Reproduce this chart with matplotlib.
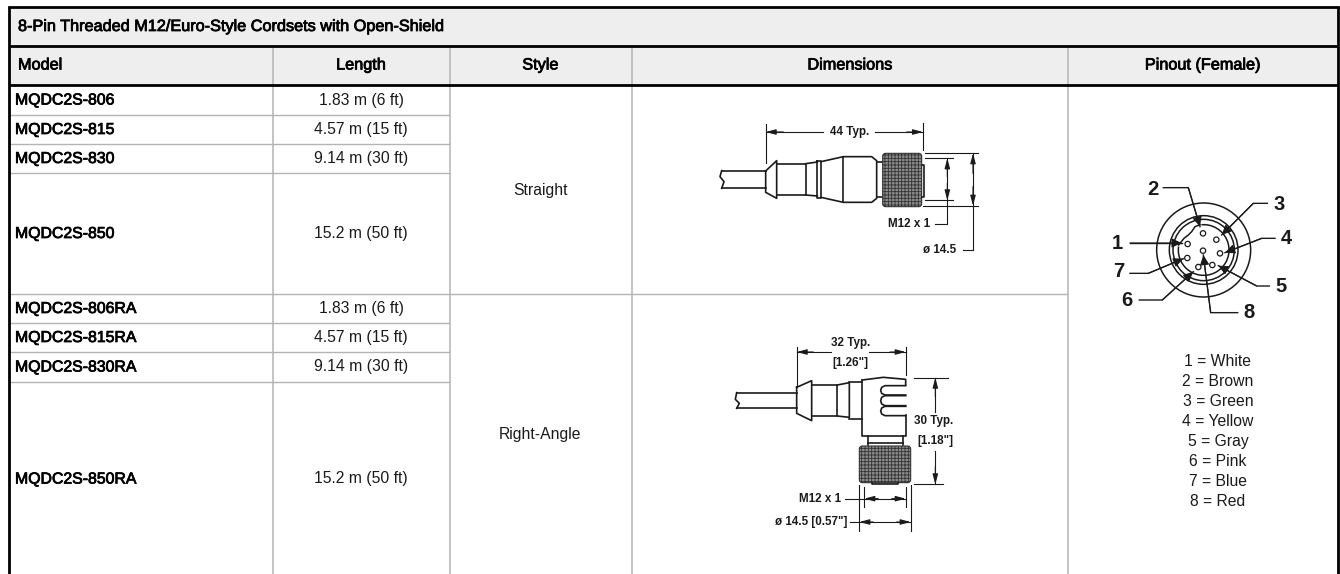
import matplotlib
matplotlib.use('Agg')
import matplotlib.pyplot as plt
import matplotlib.patheffects as pe
from matplotlib.patches import Rectangle, Circle, Arc, FancyBboxPatch

# table contents
title = '8-Pin Threaded M12/Euro-Style Cordsets with Open-Shield'
headers = ['Model', 'Length', 'Style', 'Dimensions', 'Pinout (Female)']
models = ['MQDC2S-806', 'MQDC2S-815', 'MQDC2S-830', 'MQDC2S-850',
          'MQDC2S-806RA', 'MQDC2S-815RA', 'MQDC2S-830RA', 'MQDC2S-850RA']
lengths = ['1.83 m (6 ft)', '4.57 m (15 ft)', '9.14 m (30 ft)', '15.2 m (50 ft)',
           '1.83 m (6 ft)', '4.57 m (15 ft)', '9.14 m (30 ft)', '15.2 m (50 ft)']
styles = ['Straight', 'Right-Angle']
pin_colors = ['White', 'Brown', 'Green', 'Yellow', 'Gray', 'Pink', 'Blue', 'Red']

W, H = 1340, 574
SANS = ['Liberation Sans', 'DejaVu Sans']
GRID = '#b4b4b4'
INK = '#1a1a1a'

plt.rcParams['hatch.linewidth'] = 0.6

fig = plt.figure(figsize=(W / 100, H / 100), dpi=100)
ax = fig.add_axes([0, 0, 1, 1])
ax.set_xlim(0, W)
ax.set_ylim(H, 0)
ax.axis('off')


def bold(x, y, s, ha='left', size=11.4):
    ax.text(x, y, s, ha=ha, va='center', fontsize=size, family=SANS, color='black',
            path_effects=[pe.withStroke(linewidth=0.55, foreground='black')])


def plain(x, y, s):
    ax.text(x, y, s, ha='center', va='center', fontsize=11.3, family=SANS, color=INK)


def hline(y, x0, x1, color=GRID, lw=1.1):
    ax.plot([x0, x1], [y, y], color=color, lw=lw, solid_capstyle='butt')


def vline(x, y0, y1, color=GRID, lw=1.1):
    ax.plot([x, x], [y0, y1], color=color, lw=lw, solid_capstyle='butt')


# table frame
ax.add_patch(Rectangle((9, 7), 1329, 77.5, fc='#eeeeee', ec='none'))
col_x = [272.5, 449.5, 631.5, 1068]
for x in col_x:
    vline(x, 46, H)
row_y = [115, 144, 173, 294, 323, 352, 382]
for y in row_y[:3] + row_y[4:]:
    hline(y, 9, 449.5, lw=1.0)
hline(294, 9, 1068, lw=1.0)
hline(7, 8, 1339, 'black', 2)
hline(45.5, 9, 1338, 'black', 2)
hline(84.5, 9, 1338, 'black', 2)
vline(9, 6, H, 'black', 2)
vline(1338, 6, H, 'black', 2)

bold(18, 26.5, title, size=11.7)
bold(18, 65, headers[0], size=11.7)
for x, s in zip([361, 540.5, 850, 1203], headers[1:]):
    bold(x, 65, s, ha='center', size=11.7)

model_y = [100, 129.5, 158.5, 233.5, 308.5, 337.5, 367, 479]
for y, m, l in zip(model_y, models, lengths):
    bold(15, y, m)
    plain(361, y, l)
plain(540.5, 190, styles[0])
plain(540.5, 434, styles[1])

for i, c in enumerate(pin_colors):
    plain(1218, 361.5 + i * 20, '%d = %s' % (i + 1, c))


# the drawings are traced in coordinates of 3x crops
def sketch(ox, oy):
    def to_px(p):
        return ox + p[0] / 3, oy + p[1] / 3

    def line(pts, lw=1.2, color=INK):
        xy = [to_px(p) for p in pts]
        ax.plot([p[0] for p in xy], [p[1] for p in xy], color=color, lw=lw,
                solid_joinstyle='round')

    def arrow(a, b, width=0.16):
        ax.annotate('', xy=to_px(b), xytext=to_px(a),
                    arrowprops=dict(arrowstyle='-|>,head_length=0.6,head_width=%g' % width,
                                    color=INK, lw=0.8, shrinkA=0, shrinkB=0))

    def label(x, y, s, size=8.4):
        px, py = to_px((x, y))
        ax.text(px, py, s, ha='center', va='center', fontsize=size, family=SANS,
                fontweight='bold', color=INK)

    def knurl(x0, y0, x1, y1):
        a, b = to_px((x0, y0))
        c, d = to_px((x1, y1))
        ax.add_patch(FancyBboxPatch((a + 2, b + 2), c - a - 4, d - b - 4,
                                    boxstyle='round,pad=2,rounding_size=3',
                                    fc='#8c8c8c', ec='#333333', lw=0.8,
                                    hatch='+++++', zorder=2))
    return to_px, line, arrow, label, knurl


# straight connector
to_px, line, arrow, label, knurl = sketch(620, 110)
line([(305, 182), (437, 182)])
line([(305, 235), (437, 235)])
line([(305, 182), (300, 200), (312, 215), (305, 235)])
line([(437, 183), (470, 152), (470, 265), (437, 247), (437, 183)])
line([(470, 161), (557, 161), (557, 255), (470, 255)])
line([(557, 161), (592, 156)])
line([(557, 255), (592, 258)])
line([(592, 154), (603, 154), (603, 263), (592, 263), (592, 154)])
line([(603, 155), (670, 140), (755, 140), (770, 152), (770, 265), (755, 277), (670, 277), (603, 262)])
line([(670, 140), (670, 277)])
line([(770, 155), (788, 155)])
line([(770, 260), (788, 260)])
knurl(788, 130, 905, 290)
line([(905, 165), (912, 165), (912, 260), (905, 260)])
line([(437, 42), (437, 158)], 0.8)
line([(909, 40), (909, 120)], 0.8)
line([(437, 66), (610, 66)], 0.8)
line([(765, 66), (909, 66)], 0.8)
arrow((490, 66), (437, 66))
arrow((860, 66), (909, 66))
label(688, 66, '44 Typ.')
line([(915, 130), (1075, 130)], 0.8)
line([(915, 145), (1000, 145)], 0.8)
line([(915, 271), (1000, 271)], 0.8)
line([(910, 287), (1075, 287)], 0.8)
line([(982, 145), (982, 341), (945, 341)], 0.8)
arrow((982, 200), (982, 145))
arrow((982, 220), (982, 271))
label(868, 342, 'M12 x 1')
line([(1059, 130), (1059, 420), (1028, 420)], 0.8)
arrow((1059, 190), (1059, 130))
arrow((1059, 230), (1059, 287))
label(958, 420, 'ø 14.5')

# right-angle connector
to_px, line, arrow, label, knurl = sketch(620, 340)
line([(350, 158), (530, 158)])
line([(350, 205), (530, 205)])
line([(350, 158), (346, 178), (358, 190), (350, 205)])
line([(530, 142), (575, 122), (575, 242), (530, 220), (530, 142)])
line([(575, 135), (652, 135), (652, 228), (575, 228)])
line([(652, 135), (688, 128), (688, 232), (652, 228)])
line([(688, 125), (727, 125)])
line([(688, 237), (727, 237)])
line([(727, 120), (790, 112), (857, 118), (857, 135)])
line([(727, 120), (727, 287), (857, 287), (857, 225)])
for y0, y1 in [(137, 165), (167, 197), (199, 227)]:
    ym = (y0 + y1) / 2
    line([(857, y0), (795, y0), (785, y0 + 5), (782, ym), (785, y1 - 5), (795, y1), (857, y1)])
line([(745, 287), (745, 316)])
line([(848, 287), (848, 316)])
line([(745, 308), (848, 308)])
knurl(718, 318, 872, 428)
line([(755, 428), (755, 433), (835, 433), (835, 428)])
line([(530, 20), (530, 135)], 0.8)
line([(857, 20), (857, 105)], 0.8)
line([(530, 36), (632, 36)], 0.8)
line([(748, 36), (857, 36)], 0.8)
arrow((580, 36), (530, 36))
arrow((810, 36), (857, 36))
label(692, 8, '32 Typ.')
label(692, 68, '[1.26"]')
line([(882, 113), (985, 113)], 0.8)
line([(882, 433), (968, 433)], 0.8)
line([(946, 113), (946, 215)], 0.8)
line([(946, 333), (946, 433)], 0.8)
arrow((946, 170), (946, 113))
arrow((946, 380), (946, 433))
label(942, 242, '30 Typ.')
label(945, 303, '[1.18"]')
line([(718, 435), (718, 572)], 0.8)
line([(872, 435), (872, 572)], 0.8)
line([(733, 440), (733, 500)], 0.8)
line([(857, 440), (857, 500)], 0.8)
line([(676, 476), (857, 476)], 0.8)
line([(690, 546), (872, 546)], 0.8)
arrow((775, 476), (733, 476))
arrow((815, 476), (857, 476))
arrow((760, 546), (718, 546))
arrow((830, 546), (872, 546))
label(601, 476, 'M12 x 1')
label(574, 546, 'ø 14.5 [0.57"]')

# pinout face
to_px, line, arrow, label, knurl = sketch(1110, 170)
cx, cy = to_px((281, 240))
for r in [141, 103, 92]:
    ax.add_patch(Circle((cx, cy), r / 3, fc='none', ec=INK, lw=1.1))
ax.add_patch(Arc((cx, cy), 2 * 76 / 3, 2 * 76 / 3, theta1=265, theta2=188, ec=INK, lw=1.1))
line([(206, 225), (222, 205), (235, 195), (245, 185), (255, 170), (270, 164)], 1.1)
pins = [(233, 222), (279, 190), (319, 209), (330, 250), (307, 285), (265, 291), (232, 264), (279, 242)]
for p in pins:
    ax.add_patch(Circle(to_px(p), 8 / 3, fc='white', ec=INK, lw=0.9, zorder=3))
leaders = [
    ('2', (130, 58), [(160, 53), (235, 53), (270, 170)]),
    ('3', (508, 103), [(472, 100), (430, 100), (335, 195)]),
    ('4', (530, 207), [(495, 205), (455, 205), (345, 248)]),
    ('5', (513, 350), [(478, 348), (440, 348), (325, 287)]),
    ('8', (416, 428), [(383, 428), (302, 428), (280, 255)]),
    ('1', (22, 220), [(60, 219), (215, 219)]),
    ('7', (25, 305), [(60, 310), (115, 310), (220, 266)]),
    ('6', (52, 390), [(88, 390), (157, 390), (250, 305)]),
]
for num, pos, pts in leaders:
    label(pos[0], pos[1], num, size=14.5)
    line(pts, 1.0)
    arrow(pts[-2], pts[-1], width=0.28)

fig.savefig('out.png', dpi=100)
